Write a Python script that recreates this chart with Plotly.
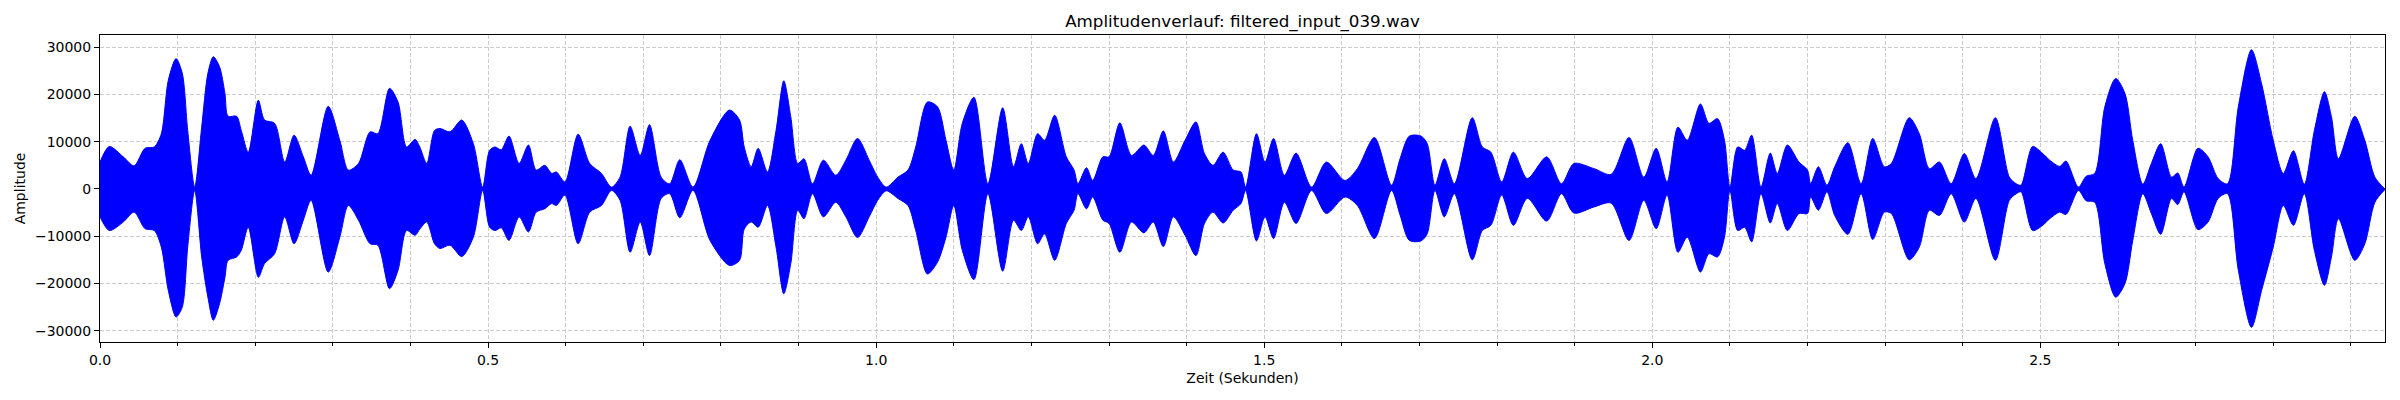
"""Amplitude envelope of filtered_input_039.wav, redrawn with plotly.

The raw samples are far too dense to type in, so the waveform is kept as
its visible upper/lower envelope (read off the original plot) and the
area in between is filled.
"""

import plotly.graph_objects as go

TITLE = "Amplitudenverlauf: filtered_input_039.wav"
DURATION_S = 2.944

# envelope sample times (s)
TIME_S = [
    0.000, 0.012, 0.030, 0.044, 0.058, 0.070, 0.079, 0.088, 0.098, 0.106,
    0.113, 0.122, 0.131, 0.139, 0.146, 0.154, 0.161, 0.165, 0.176, 0.182,
    0.191, 0.204, 0.212, 0.225, 0.238, 0.250, 0.262, 0.272, 0.294, 0.309,
    0.320, 0.333, 0.348, 0.358, 0.373, 0.384, 0.395, 0.406, 0.412, 0.421,
    0.431, 0.438, 0.451, 0.466, 0.481, 0.493, 0.502, 0.509, 0.517, 0.527,
    0.540, 0.552, 0.562, 0.573, 0.582, 0.588, 0.599, 0.616, 0.631, 0.646,
    0.659, 0.670, 0.683, 0.696, 0.708, 0.723, 0.734, 0.747, 0.764, 0.786,
    0.811, 0.824, 0.830, 0.839, 0.848, 0.860, 0.871, 0.881, 0.890, 0.899,
    0.907, 0.918, 0.932, 0.948, 0.961, 0.976, 0.991, 1.002, 1.013, 1.028,
    1.041, 1.051, 1.066, 1.079, 1.090, 1.100, 1.111, 1.126, 1.144, 1.163,
    1.177, 1.187, 1.196, 1.208, 1.217, 1.230, 1.245, 1.255, 1.260, 1.271,
    1.279, 1.292, 1.300, 1.314, 1.329, 1.345, 1.357, 1.370, 1.383, 1.398,
    1.412, 1.423, 1.434, 1.447, 1.460, 1.470, 1.476, 1.490, 1.501, 1.512,
    1.526, 1.541, 1.561, 1.580, 1.604, 1.620, 1.642, 1.664, 1.675, 1.687,
    1.702, 1.710, 1.720, 1.732, 1.745, 1.768, 1.781, 1.792, 1.806, 1.821,
    1.839, 1.864, 1.883, 1.899, 1.925, 1.947, 1.970, 1.989, 2.005, 2.019,
    2.033, 2.045, 2.062, 2.073, 2.084, 2.093, 2.100, 2.110, 2.119, 2.128,
    2.140, 2.152, 2.161, 2.174, 2.189, 2.200, 2.204, 2.214, 2.225, 2.235,
    2.252, 2.269, 2.284, 2.299, 2.308, 2.331, 2.344, 2.357, 2.370, 2.385,
    2.402, 2.417, 2.442, 2.460, 2.469, 2.475, 2.490, 2.503, 2.512, 2.525,
    2.533, 2.549, 2.559, 2.570, 2.583, 2.597, 2.609, 2.619, 2.632, 2.643,
    2.655, 2.669, 2.677, 2.685, 2.703, 2.716, 2.729, 2.741, 2.755, 2.772,
    2.785, 2.800, 2.813, 2.826, 2.840, 2.853, 2.866, 2.875, 2.884, 2.905,
    2.918, 2.931, 2.944,
]

# positive peak envelope
UPPER = [
    5700, 9000, 6800, 4900, 8600, 8900, 11700, 23000, 27600, 24500,
    12400, 400, 13100, 24500, 28000, 25900, 20200, 15400, 15400, 12400,
    7800, 18800, 14600, 13900, 5700, 11400, 6800, 2900, 17500, 10300,
    4000, 5400, 12100, 11700, 21300, 18400, 8900, 10500, 8900, 5400,
    12400, 12800, 12100, 14600, 9600, 400, 8200, 8900, 8300, 11200,
    5400, 9300, 4000, 5000, 3300, 3600, 1500, 11600, 5400, 3300,
    400, 2500, 13300, 7100, 13600, 2500, 1100, 6200, 400, 10300,
    16700, 14600, 8900, 4700, 8600, 3600, 12400, 22900, 15300, 5400,
    6400, 1100, 6100, 2900, 6100, 10700, 6100, 2500, 400, 2500,
    4000, 8900, 18400, 17400, 10300, 4000, 13900, 19400, 1100, 17200,
    4700, 9600, 5400, 11700, 10300, 15600, 6800, 4000, 1100, 4500,
    1800, 6800, 6800, 14000, 7100, 9300, 7100, 12300, 5700, 10300,
    14200, 7500, 5000, 7800, 4000, 3600, 400, 11700, 5700, 10700,
    2900, 7600, 400, 5700, 1800, 4300, 10900, 800, 6400, 11200,
    11200, 9600, 800, 6400, 1100, 15100, 8900, 7800, 1500, 7800,
    2200, 6800, 1100, 5400, 4300, 3100, 10900, 2500, 8600, 1500,
    13100, 10300, 18000, 13900, 14900, 10300, 400, 8900, 8200, 11400,
    400, 7600, 3300, 9300, 5700, 4000, 1100, 4700, 800, 4700,
    9800, 1100, 10700, 4700, 5400, 15100, 11700, 4300, 5700, 1100,
    7500, 2200, 15100, 2500, 1100, 800, 9000, 7500, 6100, 4800,
    5900, 400, 2700, 3300, 17400, 23400, 20200, 10300, 1000, 5400,
    9600, 2500, 3400, 400, 8600, 6800, 2200, 1100, 17400, 29500,
    22300, 10300, 3300, 8100, 1000, 12400, 20600, 15300, 6400, 15400,
    10300, 2500, 0,
]

# negative peak envelope
LOWER = [
    -5900, -8800, -7000, -4900, -8400, -8800, -12300, -21500, -27100, -25000,
    -12300, -300, -14400, -22900, -27800, -24300, -18700, -15100, -14400, -13000,
    -8100, -18700, -15800, -13700, -5900, -11600, -6600, -2400, -17600, -10200,
    -3500, -6600, -11600, -11900, -21100, -17200, -8800, -9800, -8500, -7000,
    -11600, -12600, -11900, -14300, -10200, -300, -8100, -8800, -8200, -10900,
    -5900, -9100, -4900, -4200, -3100, -3500, -1300, -11600, -4900, -3500,
    -300, -2400, -13400, -7000, -14100, -2000, -1000, -6100, -300, -10900,
    -16200, -15100, -8500, -7000, -8100, -3500, -12300, -22200, -15800, -4500,
    -6300, -1000, -5900, -2800, -5900, -10300, -5900, -2400, -400, -2000,
    -3500, -8800, -18000, -15500, -10200, -3500, -13000, -19200, -1000, -17400,
    -6600, -8800, -5900, -11600, -9500, -15100, -7300, -4500, -1000, -4200,
    -1700, -6600, -7300, -13400, -7000, -9300, -7000, -12200, -5900, -9800,
    -14100, -7300, -4900, -7200, -4500, -3100, -300, -11000, -5900, -10500,
    -2800, -7300, -300, -5200, -1700, -3500, -10500, -300, -5500, -10900,
    -11000, -9500, -300, -5900, -1000, -15000, -8800, -7700, -1300, -7700,
    -2000, -6800, -1000, -5100, -3800, -3000, -10900, -2400, -8400, -1300,
    -13400, -10200, -17600, -13700, -14400, -10200, -300, -8800, -8100, -11200,
    -1000, -7200, -3100, -8800, -5200, -5200, -1700, -4500, -600, -5600,
    -9600, -1000, -10700, -4900, -5200, -15000, -12300, -4500, -5600, -1000,
    -7000, -2000, -15100, -2400, -1000, -600, -8800, -7700, -6300, -4900,
    -5400, -300, -2500, -2800, -15800, -22900, -20000, -10900, -1000, -5200,
    -9600, -2000, -3300, -600, -8600, -7000, -2000, -1000, -17200, -29300,
    -21500, -12300, -3500, -7700, -1000, -13000, -20400, -14400, -6300, -15100,
    -11600, -2800, -100,
]

assert len(TIME_S) == len(UPPER) == len(LOWER)

BLUE = "#0000ff"
GRID = "#cccccc"
FONT = "DejaVu Sans"

fig = go.Figure()
# lower edge first, then the upper edge filled down onto it
fig.add_trace(go.Scatter(
    x=TIME_S, y=LOWER, mode="lines",
    line=dict(color=BLUE, width=1, shape="spline", smoothing=0.8),
    showlegend=False, hoverinfo="skip",
))
fig.add_trace(go.Scatter(
    x=TIME_S, y=UPPER, mode="lines",
    line=dict(color=BLUE, width=1, shape="spline", smoothing=0.8),
    fill="tonexty", fillcolor=BLUE,
    showlegend=False, hoverinfo="skip",
))

fig.update_xaxes(
    range=[0, DURATION_S], dtick=0.5, tick0=0, tickformat=".1f",
    ticks="outside", ticklen=5, tickwidth=1, tickcolor="black",
    showline=True, linecolor="black", linewidth=1, mirror=True,
    showgrid=True, gridcolor=GRID, griddash="4px,2px", gridwidth=1,
    zeroline=False,
    minor=dict(dtick=0.1, tick0=0, ticks="outside", ticklen=3,
               tickcolor="black", showgrid=True, gridcolor=GRID,
               griddash="4px,2px", gridwidth=1),
    tickfont=dict(family=FONT, size=14, color="black"),
    title=dict(text="Zeit (Sekunden)", standoff=6,
               font=dict(family=FONT, size=14, color="black")),
)
fig.update_yaxes(
    range=[-32400, 32600], dtick=10000, tick0=0, tickformat="d",
    ticks="outside", ticklen=5, tickwidth=1, tickcolor="black",
    showline=True, linecolor="black", linewidth=1, mirror=True,
    showgrid=True, gridcolor=GRID, griddash="4px,2px", gridwidth=1,
    zeroline=False,
    tickfont=dict(family=FONT, size=14, color="black"),
    title=dict(text="Amplitude", standoff=6,
               font=dict(family=FONT, size=14, color="black")),
)

fig.update_layout(
    width=2400, height=400,
    margin=dict(l=100, r=15, t=35, b=58),
    plot_bgcolor="white", paper_bgcolor="white",
    title=dict(text=TITLE, x=0.5, xref="paper", y=1 - 21.5 / 400,
               yanchor="middle",
               font=dict(family=FONT, size=16.7, color="black")),
)

# the page body has a default 8px margin; drop it so the figure sits at 0,0
fig.write_html(
    "out.html",
    config={"displayModeBar": False},
    post_script="document.body.style.margin = '0';",
)
